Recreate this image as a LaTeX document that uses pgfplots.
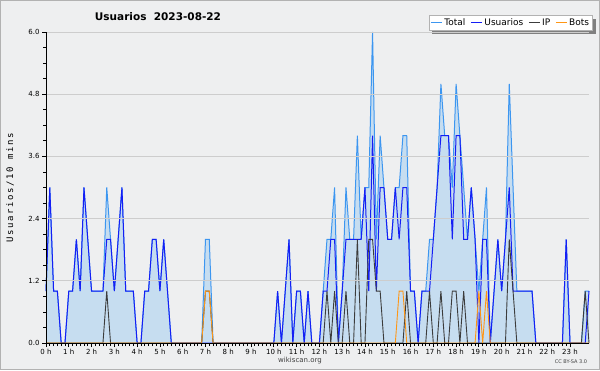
\documentclass[border=0pt]{standalone}
\usepackage{fontspec}
\setmainfont{DejaVu Sans}
\newfontfamily\monofont[LetterSpace=18]{DejaVu Sans Mono}
\usepackage{pgfplots}
\pgfplotsset{compat=1.18}
\usepackage{pgfplotstable}
\pgfdeclarelayer{back}
\pgfsetlayers{back,main}
\definecolor{bg}{RGB}{238,239,240}
\definecolor{totline}{RGB}{60,150,240}
\definecolor{totfill}{RGB}{198,221,240}
\definecolor{usr}{RGB}{20,30,245}
\definecolor{ipc}{RGB}{60,60,60}
\definecolor{bots}{RGB}{255,150,20}
\definecolor{gridc}{RGB}{205,205,205}
\definecolor{shad}{RGB}{128,128,128}

\pgfplotstableread{
i T U P B
0 1 1 0 0
1 3 3 0 0
2 1 1 0 0
3 1 1 0 0
4 0 0 0 0
5 0 0 0 0
6 1 1 0 0
7 1 1 0 0
8 2 2 0 0
9 1 1 0 0
10 3 3 0 0
11 2 2 0 0
12 1 1 0 0
13 1 1 0 0
14 1 1 0 0
15 1 1 0 0
16 3 2 1 0
17 2 2 0 0
18 1 1 0 0
19 2 2 0 0
20 3 3 0 0
21 1 1 0 0
22 1 1 0 0
23 1 1 0 0
24 0 0 0 0
25 0 0 0 0
26 1 1 0 0
27 1 1 0 0
28 2 2 0 0
29 2 2 0 0
30 1 1 0 0
31 2 2 0 0
32 1 1 0 0
33 0 0 0 0
34 0 0 0 0
35 0 0 0 0
36 0 0 0 0
37 0 0 0 0
38 0 0 0 0
39 0 0 0 0
40 0 0 0 0
41 0 0 0 0
42 2 0 1 1
43 2 0 1 1
44 0 0 0 0
45 0 0 0 0
46 0 0 0 0
47 0 0 0 0
48 0 0 0 0
49 0 0 0 0
50 0 0 0 0
51 0 0 0 0
52 0 0 0 0
53 0 0 0 0
54 0 0 0 0
55 0 0 0 0
56 0 0 0 0
57 0 0 0 0
58 0 0 0 0
59 0 0 0 0
60 0 0 0 0
61 1 1 0 0
62 0 0 0 0
63 1 1 0 0
64 2 2 0 0
65 0 0 0 0
66 1 1 0 0
67 1 1 0 0
68 0 0 0 0
69 1 1 0 0
70 0 0 0 0
71 0 0 0 0
72 0 0 0 0
73 1 1 0 0
74 2 1 1 0
75 2 2 0 0
76 3 2 1 0
77 0 0 0 0
78 1 1 0 0
79 3 2 1 0
80 2 2 0 0
81 2 2 0 0
82 4 2 2 0
83 2 2 0 0
84 3 3 0 0
85 3 1 2 0
86 6 4 2 0
87 2 1 1 0
88 4 3 1 0
89 3 3 0 0
90 2 2 0 0
91 2 2 0 0
92 3 3 0 0
93 3 2 0 1
94 4 3 0 1
95 4 3 1 0
96 1 1 0 0
97 1 1 0 0
98 0 0 0 0
99 1 1 0 0
100 1 1 0 0
101 2 1 1 0
102 2 2 0 0
103 3 3 0 0
104 5 4 1 0
105 4 4 0 0
106 4 4 0 0
107 3 2 1 0
108 5 4 1 0
109 4 4 0 0
110 3 2 1 0
111 2 2 0 0
112 3 3 0 0
113 2 2 0 0
114 1 0 0 1
115 2 2 0 0
116 3 2 0 1
117 0 0 0 0
118 1 1 0 0
119 2 2 0 0
120 1 1 0 0
121 2 2 0 0
122 5 3 2 0
123 3 1 1 0
124 1 1 0 0
125 1 1 0 0
126 1 1 0 0
127 1 1 0 0
128 1 1 0 0
129 0 0 0 0
130 0 0 0 0
131 0 0 0 0
132 0 0 0 0
133 0 0 0 0
134 0 0 0 0
135 0 0 0 0
136 0 0 0 0
137 2 2 0 0
138 0 0 0 0
139 0 0 0 0
140 0 0 0 0
141 0 0 0 0
142 1 0 1 0
143 1 1 0 0
}\data

\begin{document}
\begin{tikzpicture}
\useasboundingbox (0pt,0pt) rectangle (600pt,370pt);
\begin{pgfonlayer}{back}
\fill[bg] (0pt,0pt) rectangle (600pt,370pt);
\draw[gray!60, line width=1pt] (0.5pt,0.5pt) rectangle (599.5pt,369.5pt);
\end{pgfonlayer}
\begin{axis}[
  at={(46pt,27pt)}, anchor=south west,
  scale only axis, width=543pt, height=311pt,
  xmin=0, xmax=143, ymin=0, ymax=6,
  clip=false,
  axis on top,
  axis lines=left,
  axis line style={-, black, line width=1pt},
  xtick={0,6,...,138},
  xticklabels={0 h,1 h,2 h,3 h,4 h,5 h,6 h,7 h,8 h,9 h,10 h,11 h,12 h,13 h,14 h,15 h,16 h,17 h,18 h,19 h,20 h,21 h,22 h,23 h},
  minor x tick num=5,
  ytick={0,1.2,2.4,3.6,4.8,6},
  yticklabels={0.0,1.2,2.4,3.6,4.8,6.0},
  minor y tick num=3,
  tick align=outside,
  major tick length=4pt, minor tick length=3pt,
  tick style={black, line width=0.8pt},
  ymajorgrids, grid style={gridc, line width=0.8pt},
  tick label style={font=\fontsize{7}{8}\selectfont},
  xticklabel style={yshift=1pt},
  yticklabel style={xshift=1pt},
  legend columns=4,
  legend style={name=leg, at={(1.007,1.004)}, anchor=south east,
    font=\fontsize{9}{10}\selectfont, draw=gray!60, fill=white,
    inner sep=1.5pt,
    /tikz/every even column/.append style={column sep=3pt}},
  legend image code/.code={\draw[#1] (0pt,0pt) -- (11pt,0pt);},
]
\addplot[fill=totfill, draw=none, forget plot] table[x=i,y=T]{\data} \closedcycle;
\addplot[totline, line width=1pt] table[x=i,y=T]{\data};
\addplot[usr, line width=1pt] table[x=i,y=U]{\data};
\addplot[ipc, line width=0.9pt] table[x=i,y=P]{\data};
\addplot[bots, line width=0.9pt] table[x=i,y=B]{\data};
\legend{Total,Usuarios,IP,Bots}
\end{axis}
\begin{pgfonlayer}{back}
\fill[shad] ([shift={(3.5pt,-3.5pt)}]leg.south west) rectangle ([shift={(3.5pt,-3.5pt)}]leg.north east);
\end{pgfonlayer}
\node[font=\bfseries\fontsize{10.5}{12}\selectfont] at (158pt,353pt) {Usuarios\hspace{0.7em}2023-08-22};
\node[rotate=90, font=\monofont\fontsize{9}{10}\selectfont] at (10pt,182pt) {Usuarios/10 mins};
\node[font=\fontsize{7}{8}\selectfont, text=black!75] at (300pt,9pt) {wikiscan.org};
\node[font=\fontsize{5}{6}\selectfont, text=black!75] at (571pt,8pt) {CC BY-SA 3.0};
\end{tikzpicture}
\end{document}
